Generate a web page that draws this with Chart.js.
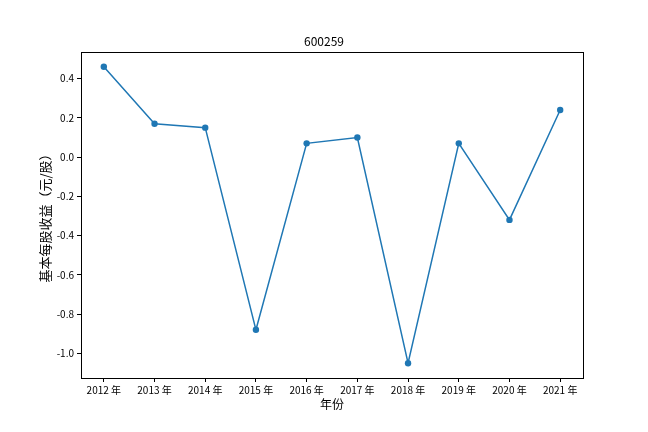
<!DOCTYPE html>
<html lang="zh">
<head>
<meta charset="UTF-8">
<script src="https://cdn.jsdelivr.net/npm/chart.js"></script>
<title>600259</title>
<style>
  body { margin: 0; background: #fff; }
  #box { width: 648px; height: 432px; }
</style>
</head>
<body>
<div id="box"><canvas id="grafico"></canvas></div>
<script>
    // dados
    var anos = ['2012 年', '2013 年', '2014 年', '2015 年', '2016 年', '2017 年', '2018 年', '2019 年', '2020 年', '2021 年'];
    var lucroPorAcao = [0.46, 0.17, 0.15, -0.88, 0.07, 0.10, -1.05, 0.07, -0.32, 0.24];
    var ticksY = [-1.0, -0.8, -0.6, -0.4, -0.2, 0.0, 0.2, 0.4];

    var fonte = '"Noto Sans CJK SC", "DejaVu Sans", sans-serif';
    var azul = '#1f77b4';

    // margem de 5% como no matplotlib
    var minY = Math.min.apply(null, lucroPorAcao);
    var maxY = Math.max.apply(null, lucroPorAcao);
    var margemY = (maxY - minY) * 0.05;
    var margemX = (anos.length - 1) * 0.05;

    var pontos = [];
    for (var i = 0; i < anos.length; i++) {
        pontos.push({ x: i, y: lucroPorAcao[i] });
    }

    // moldura completa (as quatro bordas)
    var moldura = {
        id: 'moldura',
        afterDraw: function (chart) {
            var a = chart.chartArea;
            var ctx = chart.ctx;
            ctx.save();
            ctx.strokeStyle = '#000';
            ctx.lineWidth = 1;
            ctx.strokeRect(Math.round(a.left) + 0.5, Math.round(a.top) + 0.5,
                Math.round(a.right - a.left), Math.round(a.bottom - a.top));
            ctx.restore();
        }
    };

    new Chart(document.getElementById('grafico'), {
        type: 'scatter',
        data: {
            datasets: [{
                data: pontos,
                showLine: true,
                borderColor: azul,
                backgroundColor: azul,
                borderWidth: 1.5,
                pointRadius: 3.2,
                pointHoverRadius: 3.2,
                pointBorderWidth: 0,
                tension: 0
            }]
        },
        options: {
            responsive: true,
            maintainAspectRatio: false,
            animation: false,
            layout: { padding: 0 },
            plugins: {
                legend: { display: false },
                tooltip: { enabled: false },
                title: {
                    display: true,
                    text: '600259',
                    color: '#000',
                    font: { family: fonte, size: 12, weight: 'normal' },
                    padding: { top: 34, bottom: 3.6 }
                }
            },
            scales: {
                x: {
                    type: 'linear',
                    min: -margemX,
                    max: anos.length - 1 + margemX,
                    afterFit: function (s) { s.height = 54; },
                    afterBuildTicks: function (s) {
                        s.ticks = anos.map(function (a, i) { return { value: i }; });
                    },
                    ticks: {
                        color: '#000',
                        font: { family: fonte, size: 10 },
                        padding: 2,
                        maxRotation: 0,
                        autoSkip: false,
                        callback: function (v) { return anos[v]; }
                    },
                    grid: { drawOnChartArea: false, drawTicks: true, tickLength: 4, color: '#000' },
                    border: { color: '#000', width: 1 },
                    title: {
                        display: true,
                        text: '年份',
                        color: '#000',
                        font: { family: fonte, size: 12 },
                        padding: { top: 20.5, bottom: 20.5 }
                    }
                },
                y: {
                    min: minY - margemY,
                    max: maxY + margemY,
                    afterFit: function (s) { s.width = 81; },
                    afterBuildTicks: function (s) {
                        s.ticks = ticksY.map(function (v) { return { value: v }; });
                    },
                    ticks: {
                        color: '#000',
                        font: { family: fonte, size: 10 },
                        padding: 3,
                        callback: function (v) { return v.toFixed(1); }
                    },
                    grid: { drawOnChartArea: false, drawTicks: true, tickLength: 4, color: '#000' },
                    border: { color: '#000', width: 1 },
                    title: {
                        display: true,
                        text: '基本每股收益（元/股）',
                        color: '#000',
                        font: { family: fonte, size: 13 },
                        padding: { top: 37, bottom: 37 }
                    }
                },
                // eixo vazio só para reservar a margem direita
                direita: {
                    type: 'linear',
                    position: 'right',
                    display: true,
                    afterFit: function (s) { s.width = 65; },
                    ticks: { display: false },
                    grid: { display: false },
                    border: { display: false }
                }
            }
        },
        plugins: [moldura]
    });
</script>
</body>
</html>
